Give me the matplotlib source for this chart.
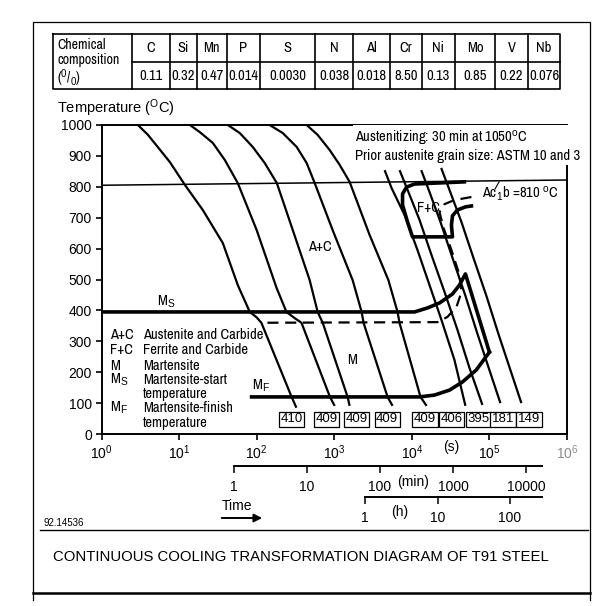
import matplotlib
matplotlib.use('Agg')
import matplotlib.pyplot as plt
from matplotlib import font_manager as fm

W, H = 599, 606

# chemical composition (%)
elements = ['C', 'Si', 'Mn', 'P', 'S', 'N', 'Al', 'Cr', 'Ni', 'Mo', 'V', 'Nb']
contents = ['0.11', '0.32', '0.47', '0.014', '0.0030', '0.038', '0.018', '8.50',
            '0.13', '0.85', '0.22', '0.076']

# cooling curves, time (s) / temperature (C)
cool1_t = [2.95, 3.97, 5.3, 7.61, 11.9, 20.2, 36.6, 57.1, 81.5, 99.4, 115, 281, 325]
cool1_T = [1000, 968, 929, 880, 806, 725, 618, 482, 395, 378, 360, 121, 85]
cool2_t = [13.8, 18.5, 27.2, 38.8, 57.1, 100, 181, 242, 309, 378, 877, 1012]
cool2_T = [1000, 977, 942, 887, 812, 660, 472, 395, 375, 360, 121, 91]
cool3_t = [42.5, 60.6, 89, 127, 182, 292, 482, 611, 710, 1486, 1578]
cool3_T = [1000, 974, 929, 877, 812, 660, 498, 395, 360, 120, 91]
cool4_t = [147, 217, 328, 441, 560, 953, 1726, 2254, 2391, 4867, 5645]
cool4_T = [1000, 974, 929, 877, 812, 660, 498, 395, 359, 120, 91]
cool5_t = [441, 611, 873, 1174, 1578, 2857, 4988, 6545, 6950, 12940, 15500]
cool5_T = [1000, 968, 919, 871, 816, 644, 498, 395, 359, 120, 91]
cool6_t = [4457, 5480, 8050, 11840, 16900, 24100, 35480, 49100]
cool6_T = [854, 796, 709, 595, 482, 369, 239, 91]
cool7_t = [6950, 8810, 12560, 17940, 26360, 38730, 55300, 81280]
cool7_T = [854, 790, 693, 579, 460, 337, 214, 94]
cool8_t = [13210, 16900, 23400, 33420, 49100, 70130, 100000, 138600]
cool8_T = [854, 783, 686, 570, 447, 324, 207, 100]
cool9_t = [23890, 30550, 43600, 62230, 91440, 130600, 186400, 258200]
cool9_T = [861, 790, 686, 570, 447, 324, 207, 100]

# hardness HV at the end of each cooling curve
hardness = [410, 409, 409, 409, 409, 406, 395, 181, 149]

# transformation lines
ac1b_t = [1, 1e6]
ac1b_T = [805, 822]
ms_t = [1, 10830, 15920, 22720, 33360, 41100, 49100, 100000]
ms_T = [395, 395, 408, 424, 453, 482, 518, 265]
mf_t = [100000, 67600, 44700, 30560, 19590, 12580, 86]
mf_T = [265, 207, 168, 142, 126, 120, 120]
fc_start_t = [47600, 10830, 8550, 7590, 7590, 8810, 10200, 33400, 32400, 33400, 38700, 49100, 58600]
fc_start_T = [816, 809, 799, 777, 741, 686, 638, 638, 676, 706, 725, 735, 738]
fc_end_t = [58600, 35400, 26400, 22720, 25600, 32400, 41100, 43700, 37600, 28800, 21400, 116]
fc_end_T = [767, 757, 744, 718, 667, 595, 515, 460, 411, 379, 362, 360]

# layout: x of the hardness boxes (s)
hv_pos = [281, 798, 1925, 4810, 14800, 32400, 72100, 149000, 322000]
# layout: table column edges (px)
col_edges = [131.7, 170, 196.7, 226.7, 260, 315, 353, 390, 421.7, 455, 495, 528, 560]

names = {f.name for f in fm.fontManager.ttflist}
narrow_name = next((n for n in ['Archivo Narrow', 'Liberation Sans Narrow', 'Asap Condensed']
                    if n in names), 'Liberation Sans')
NARROW = dict(family=[narrow_name, 'Liberation Sans'])
SANS = dict(family='Liberation Sans')

plt.rcParams['mathtext.fontset'] = 'custom'
plt.rcParams['mathtext.rm'] = 'Liberation Sans'
plt.rcParams['mathtext.it'] = 'Liberation Sans:italic'
plt.rcParams['mathtext.bf'] = 'Liberation Sans:bold'

fig = plt.figure(figsize=(W / 100, H / 100), dpi=100)

# main diagram
ax = fig.add_axes([101.5 / W, 1 - 434 / H, (567 - 101.5) / W, (434 - 125) / H])
ax.set_zorder(1)
ax.set_xscale('log')
ax.set_xlim(1, 1e6)
ax.set_ylim(0, 1000)

curves = [(cool1_t, cool1_T), (cool2_t, cool2_T), (cool3_t, cool3_T),
          (cool4_t, cool4_T), (cool5_t, cool5_T), (cool6_t, cool6_T),
          (cool7_t, cool7_T), (cool8_t, cool8_T), (cool9_t, cool9_T)]
for t, T in curves:
    ax.plot(t, T, color='k', lw=1.6, solid_capstyle='butt', solid_joinstyle='round')

ax.plot(ac1b_t, ac1b_T, color='k', lw=1.1)
ax.plot(ms_t, ms_T, color='k', lw=2.6, solid_joinstyle='round')
ax.plot(mf_t, mf_T, color='k', lw=2.6, solid_joinstyle='round')
ax.plot(fc_start_t, fc_start_T, color='k', lw=2.6, solid_joinstyle='round')
ax.plot(fc_end_t, fc_end_T, color='k', lw=1.6, ls=(0, (5, 3)))

for hv, xpos in zip(hardness, hv_pos):
    ax.text(xpos, 48, str(hv), ha='center', va='center', fontsize=9.5,
            bbox=dict(boxstyle='square,pad=0.12', fc='white', ec='k', lw=0.9), **SANS)

ax.set_yticks(range(0, 1001, 100))
ax.set_xticks([10.0 ** k for k in range(7)])
ax.set_xticklabels([r'$10^{%d}$' % k for k in range(7)])
ax.minorticks_off()
ax.get_xticklabels()[-1].set_color('0.55')
ax.tick_params(direction='out', length=4, width=1.2, labelsize=10, pad=3)
for lab in ax.get_yticklabels():
    lab.set_fontfamily('Liberation Sans')
for s in ax.spines.values():
    s.set_linewidth(1.4)

# overlay in pixel coordinates
bg = fig.add_axes([0, 0, 1, 1])
bg.set_zorder(5)
bg.set_xlim(0, W)
bg.set_ylim(H, 0)
bg.axis('off')

# outer frame and separator lines
bg.plot([33, 33, 590, 590], [600, 22, 22, 600], color='k', lw=0.9)
bg.plot([40, 588], [530, 530], color='k', lw=1.0)
bg.plot([33, 590], [593, 593], color='k', lw=1.8)

# composition table
bg.plot([53, 560, 560, 53, 53], [34, 34, 89, 89, 34], color='k', lw=1.2)
bg.plot([col_edges[0], col_edges[-1]], [61.7, 61.7], color='k', lw=1.2)
for xe in col_edges[:-1]:
    bg.plot([xe, xe], [34, 89], color='k', lw=1.2)
for i, (el, val) in enumerate(zip(elements, contents)):
    xc = (col_edges[i] + col_edges[i + 1]) / 2
    bg.text(xc, 48.5, el, ha='center', va='center', fontsize=10.5, **NARROW)
    bg.text(xc, 76, val, ha='center', va='center', fontsize=10.5, **NARROW)
bg.text(57, 45, 'Chemical', ha='left', va='center', fontsize=10, **NARROW)
bg.text(57, 60, 'composition', ha='left', va='center', fontsize=10, **NARROW)
bg.text(57, 78, r'($^{0}$/$_{0}$)', ha='left', va='center', fontsize=10, **NARROW)

bg.text(57, 108, r'Temperature ($^{\mathrm{O}}$C)', ha='left', va='center', fontsize=10.5, **SANS)

bg.text(355, 146, 'Austenitizing: 30 min at 1050$^{\\mathrm{o}}$C\n'
        'Prior austenite grain size: ASTM 10 and 3', ha='left', va='center',
        fontsize=10.5, linespacing=1.05,
        bbox=dict(boxstyle='square,pad=0.15', fc='white', ec='none'), **NARROW)
bg.text(482, 194, r'Ac$_{1}$b =810 $^{\mathrm{o}}$C', ha='left', va='center', fontsize=10.5, **NARROW)
bg.plot([499, 495], [182, 189], color='k', lw=0.8)
bg.text(428, 208, 'F+C', ha='center', va='center', fontsize=10.5, **NARROW)
bg.text(320, 247, 'A+C', ha='center', va='center', fontsize=10.5, **NARROW)
bg.text(352, 360, 'M', ha='center', va='center', fontsize=10.5, **NARROW)
bg.text(157, 302, r'M$_{\mathrm{S}}$', ha='left', va='center', fontsize=10.5, **NARROW)
bg.text(252, 386, r'M$_{\mathrm{F}}$', ha='left', va='center', fontsize=10.5, **NARROW)

legend_rows = [('A+C', 'Austenite and Carbide', 335), ('F+C', 'Ferrite and Carbide', 350),
               ('M', 'Martensite', 366), (r'M$_{\mathrm{S}}$', 'Martensite-start', 380),
               ('', 'temperature', 394), (r'M$_{\mathrm{F}}$', 'Martensite-finish', 408),
               ('', 'temperature', 423)]
for sym, desc, yy in legend_rows:
    if sym:
        bg.text(110, yy, sym, ha='left', va='center', fontsize=10.5, **NARROW)
    bg.text(143, yy, desc, ha='left', va='center', fontsize=10.5, **NARROW)

bg.text(451.7, 447, '(s)', ha='center', va='center', fontsize=10, **SANS)

# minute and hour scales
ax_min = fig.add_axes([234 / W, 1 - 465.7 / H, (541.7 - 234) / W, 0.0005])
ax_hr = fig.add_axes([365 / W, 1 - 496.7 / H, (541.7 - 365) / W, 0.0005])
for a, span, decade, ticks in [(ax_min, 541.7 - 234, 73.0, [1, 10, 100, 1000, 10000]),
                                (ax_hr, 541.7 - 365, 72.5, [1, 10, 100])]:
    a.set_xscale('log')
    a.set_xlim(1, 10 ** (span / decade))
    a.set_xticks(ticks)
    a.set_xticklabels([str(v) for v in ticks])
    a.minorticks_off()
    a.set_yticks([])
    a.patch.set_alpha(0)
    for side in ['left', 'right', 'top']:
        a.spines[side].set_visible(False)
    a.spines['bottom'].set_linewidth(1.4)
    a.tick_params(direction='out', length=5, width=1.1, labelsize=10, pad=5)
    for lab in a.get_xticklabels():
        lab.set_fontfamily('Liberation Sans')
bg.text(413, 482, '(min)', ha='center', va='center', fontsize=10, **SANS)
bg.text(400, 512, '(h)', ha='center', va='center', fontsize=10, **SANS)

bg.text(237, 506, 'Time', ha='center', va='center', fontsize=10, **SANS)
bg.annotate('', xy=(265, 518), xytext=(219, 518),
            arrowprops=dict(arrowstyle='-|>', color='k', lw=1.4, mutation_scale=12))
bg.text(44, 523, '92.14536', ha='left', va='center', fontsize=7, **SANS)
bg.text(301, 557, 'CONTINUOUS COOLING TRANSFORMATION DIAGRAM OF T91 STEEL',
        ha='center', va='center', fontsize=10.7, **SANS)

fig.savefig('out.png', dpi=100)
